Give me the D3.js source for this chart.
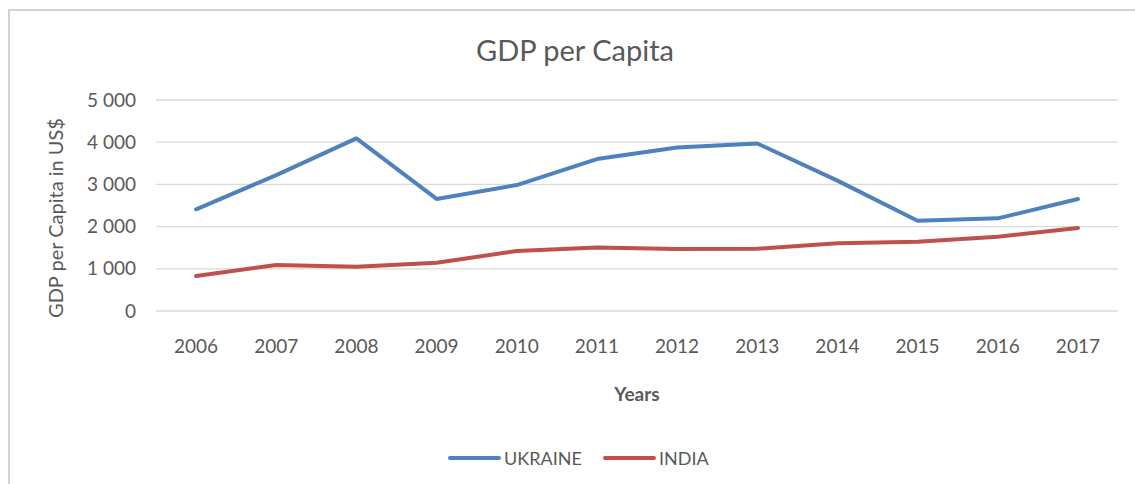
<!DOCTYPE html>
<html>
<head>
<meta charset="utf-8">
<script src="https://cdn.jsdelivr.net/npm/d3@7"></script>
<style>
  html, body { margin: 0; padding: 0; background: #fff; }
  svg { display: block; }
  text { font-family: Lato, "Open Sans", sans-serif; fill: #595959; }
</style>
</head>
<body>
<svg id="chart" width="1135" height="484"></svg>
<script>
const years = ["2006","2007","2008","2009","2010","2011","2012","2013","2014","2015","2016","2017"];
const ukraine = [2410, 3220, 4090, 2655, 2985, 3600, 3875, 3970, 3090, 2140, 2195, 2655];
const india = [830, 1090, 1050, 1145, 1420, 1505, 1470, 1475, 1605, 1640, 1760, 1965];
const yTicks = [0, 1000, 2000, 3000, 4000, 5000];
const seriesNames = ["UKRAINE", "INDIA"];
const seriesColors = ["#4f81bd", "#c0504d"];

const svg = d3.select("#chart");

// outer chart border (only left and top visible in frame)
svg.append("path")
  .attr("d", "M9,484 L9,10 L1135,10")
  .attr("fill", "none").attr("stroke", "#d4d4d4").attr("stroke-width", 2);

const plotL = 156, plotR = 1118, plotT = 100, plotB = 311;
const x = d3.scaleBand().domain(years).range([plotL, plotR]);
const y = d3.scaleLinear().domain([0, 5000]).range([plotB, plotT]);

// gridlines
svg.append("g").selectAll("line").data(yTicks).join("line")
  .attr("x1", plotL).attr("x2", plotR)
  .attr("y1", d => y(d)).attr("y2", d => y(d))
  .attr("stroke", "#d9d9d9").attr("stroke-width", 1.3);

// y axis labels
const yAxis = d3.axisLeft(y).tickValues(yTicks).tickSize(0).tickPadding(0)
  .tickFormat(d => d3.format(",")(d).replace(/,/g, " "));
const gy = svg.append("g").attr("transform", `translate(136,0)`).call(yAxis);
gy.select(".domain").remove();
gy.selectAll("text").attr("font-size", 19).attr("fill", "#595959")
  .style("font-family", "Lato, sans-serif");

// x axis labels
const xAxis = d3.axisBottom(x).tickSize(0).tickPadding(0);
const gx = svg.append("g").attr("transform", `translate(0,${plotB + 28})`).call(xAxis);
gx.select(".domain").remove();
gx.selectAll("text").attr("font-size", 19).attr("fill", "#595959")
  .style("font-family", "Lato, sans-serif");

// lines
const line = d3.line().x((d, i) => x(years[i]) + x.bandwidth() / 2).y(d => y(d));
[ukraine, india].forEach((vals, k) => {
  svg.append("path").datum(vals)
    .attr("d", line)
    .attr("fill", "none")
    .attr("stroke", seriesColors[k])
    .attr("stroke-width", 4)
    .attr("stroke-linejoin", "round")
    .attr("stroke-linecap", "round");
});

// title
svg.append("text").attr("x", 575).attr("y", 61)
  .attr("text-anchor", "middle").attr("font-size", 29)
  .text("GDP per Capita");

// y axis title
svg.append("text")
  .attr("transform", "translate(63,218) rotate(-90)")
  .attr("text-anchor", "middle").attr("font-size", 20)
  .text("GDP per Capita in US$");

// x axis title
svg.append("text").attr("x", 637).attr("y", 401)
  .attr("text-anchor", "middle").attr("font-size", 19).attr("font-weight", "bold")
  .text("Years");

// legend
const legendX = [450, 605];
seriesNames.forEach((name, k) => {
  const g = svg.append("g").attr("transform", `translate(${legendX[k]},458)`);
  g.append("line").attr("x1", 0).attr("x2", 49).attr("y1", 0).attr("y2", 0)
    .attr("stroke", seriesColors[k]).attr("stroke-width", 4).attr("stroke-linecap", "round");
  g.append("text").attr("x", 54).attr("y", 7).attr("font-size", 18).text(name);
});
</script>
</body>
</html>
